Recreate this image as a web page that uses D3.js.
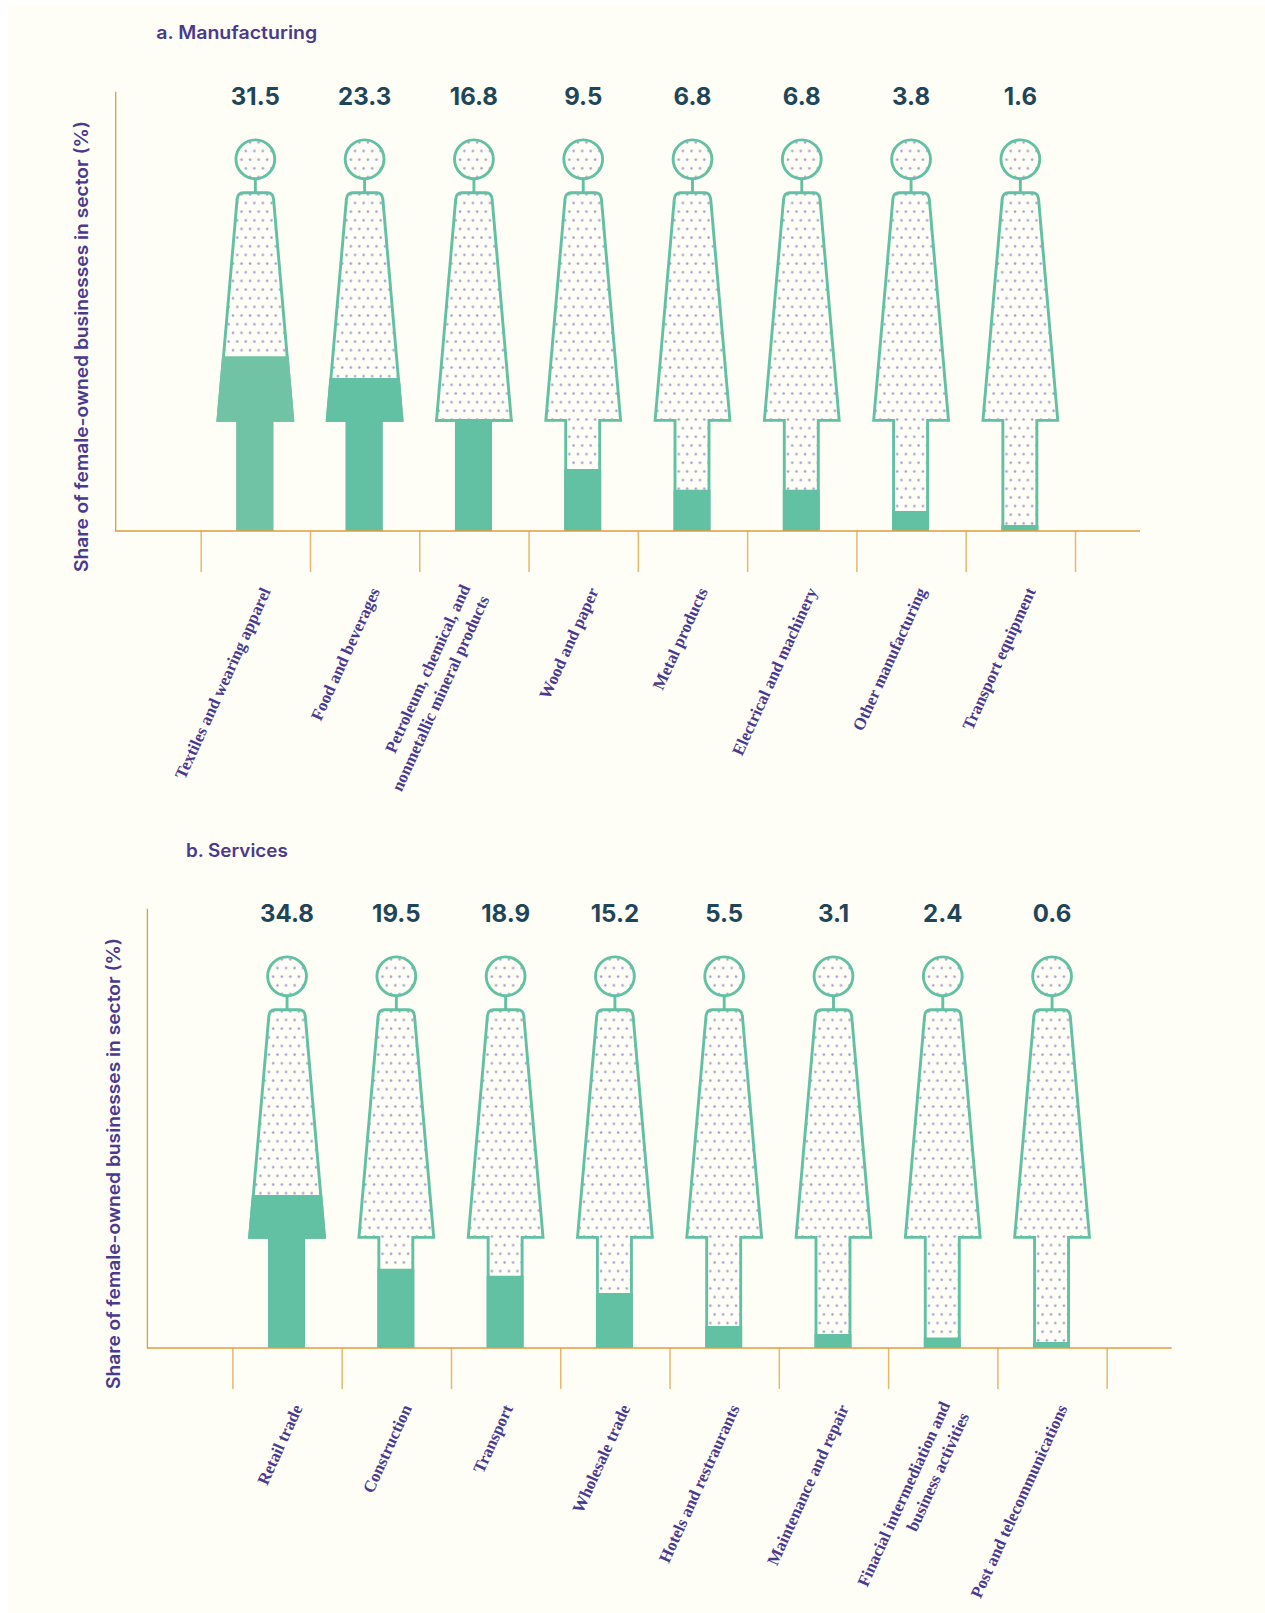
<!DOCTYPE html>
<html><head><meta charset="utf-8">
<script src="https://d3js.org/d3.v7.min.js"></script>
<style>html,body{margin:0;padding:0;background:#fff}svg{display:block}</style>
</head><body><div id="chart"></div>
<script>
const manufacturingCategories = [
  ["Textiles and wearing apparel"], ["Food and beverages"],
  ["Petroleum, chemical, and", "nonmetallic mineral products"],
  ["Wood and paper"], ["Metal products"], ["Electrical and machinery"],
  ["Other manufacturing"], ["Transport equipment"]];
const manufacturingValues = ["31.5","23.3","16.8","9.5","6.8","6.8","3.8","1.6"];
// level of the solid fill as drawn, in % of the figure's height
const manufacturingLevels = [44.6,39,28.6,15.8,10.5,10.5,5.1,1.5];

const servicesCategories = [
  ["Retail trade"], ["Construction"], ["Transport"], ["Wholesale trade"],
  ["Hotels and restraurants"], ["Maintenance and repair"],
  ["Finacial intermediation and", "business activities"],
  ["Post and telecommunications"]];
const servicesValues = ["34.8","19.5","18.9","15.2","5.5","3.1","2.4","0.6"];
const servicesLevels = [39,20.2,18.4,14,5.6,3.6,2.7,1.5];

const yAxisLabel = "Share of female-owned businesses in sector (%)";

const W = 1265, H = 1613;
const GREEN = "#62c0a3", PURPLE = "#4a3a8e", AXIS = "#e39b3f", TICK = "#e9b66c", BG = "#fefdf6", DOT = "#a99dd0", NUM = "#1f4558";
const SANS = "Inter, 'Open Sans', sans-serif", SERIF = "'Liberation Serif', serif";
const STROKE = 2.9;

const svg = d3.select("#chart").append("svg").attr("width", W).attr("height", H);
svg.append("rect").attr("x", 8).attr("y", 4).attr("width", W - 8).attr("height", H - 4).attr("fill", BG);
const defs = svg.append("defs");

// horizontal shift of a label line's end from the standard anchor
const labelNudge = {"Transport": -8, "Petroleum, chemical, and": -19, "Finacial intermediation and": -8, "business activities": 11};

function panel(id, title, titleWidth, titleX, titleY, cats, vals, levels, dx, dy) {
  const g = svg.append("g").attr("transform", `translate(${dx},${dy})`);
  const baseline = 531, headTop = 139, axisX = 115.7, axisTop = 91.7, axisRight = 1140;
  const x = d3.scaleBand().domain(d3.range(cats.length)).range([200.7, 1075]);
  const y = d3.scaleLinear().domain([0, 100]).range([baseline, headTop]);

  g.append("text").attr("x", titleX).attr("y", titleY).attr("textLength", titleWidth).attr("lengthAdjust", "spacingAndGlyphs")
    .attr("font-family", SANS).attr("font-weight", 600).attr("font-size", 18).attr("fill", PURPLE).text(title);

  g.append("text").attr("transform", `translate(88,346.5) rotate(-90)`).attr("text-anchor", "middle")
    .attr("textLength", 451).attr("lengthAdjust", "spacingAndGlyphs")
    .attr("font-family", SANS).attr("font-weight", 600).attr("font-size", 18).attr("fill", PURPLE).text(yAxisLabel);

  const fig = g.selectAll("g.fig").data(cats).join("g").attr("class", "fig");
  fig.each(function (c, i) {
    const s = d3.select(this), cx = x(i) + x.bandwidth() / 2;
    const pid = `${id}-dots-${i}`, clip = `${id}-clip-${i}`;
    const w = 8.55, h = 17.32;
    const p = defs.append("pattern").attr("id", pid).attr("patternUnits", "userSpaceOnUse")
      .attr("width", w).attr("height", h).attr("x", cx - 2.5).attr("y", 149.5);
    p.append("circle").attr("cx", 1.5).attr("cy", 1.5).attr("r", 1.3).attr("fill", DOT);
    p.append("circle").attr("cx", 1.5 + w / 2).attr("cy", 1.5 + h / 2).attr("r", 1.3).attr("fill", DOT);

    const level = y(levels[i]);
    defs.append("clipPath").attr("id", clip).append("rect")
      .attr("x", cx - 60).attr("width", 120).attr("y", level).attr("height", baseline + 2 - level);

    const top = 192.8, shoulder = 420.4, foot = 529.6, lc = cx - 0.5;
    const d = d3.path();
    d.moveTo(cx - 37.4, shoulder);
    d.lineTo(cx - 18.2, 199);
    d.quadraticCurveTo(cx - 17.6, top, cx - 12, top);
    d.lineTo(cx + 12, top);
    d.quadraticCurveTo(cx + 17.6, top, cx + 18.2, 199);
    d.lineTo(cx + 37.4, shoulder);
    d.lineTo(lc + 17, shoulder);
    d.lineTo(lc + 17, foot);
    d.lineTo(lc - 17, foot);
    d.lineTo(lc - 17, shoulder);
    d.closePath();
    const path = d.toString();

    s.append("circle").attr("cx", cx).attr("cy", 159.3).attr("r", 19.4)
      .attr("fill", `url(#${pid})`).attr("stroke", GREEN).attr("stroke-width", STROKE);
    s.append("line").attr("x1", cx).attr("x2", cx).attr("y1", 179).attr("y2", top)
      .attr("stroke", GREEN).attr("stroke-width", STROKE);
    s.append("path").attr("d", path).attr("fill", `url(#${pid})`)
      .attr("stroke", GREEN).attr("stroke-width", STROKE).attr("stroke-linejoin", "miter");
    const solid = (id === "a" && i === 0) ? "#70c3a5" : GREEN;
    s.append("path").attr("d", path).attr("fill", solid).attr("stroke", solid).attr("stroke-width", STROKE)
      .attr("clip-path", `url(#${clip})`);

    s.append("text").attr("x", cx).attr("y", 105).attr("text-anchor", "middle")
      .attr("font-family", SANS).attr("font-weight", 700).attr("font-size", 24).attr("fill", NUM).text(vals[i]);

    c.forEach((line, k) => {
      const ex = cx + 15.7 + (labelNudge[line] || 0);
      const ey = c.length > 1 ? (k === 0 ? 588 : 599) : 591;
      s.append("text").attr("transform", `translate(${ex},${ey}) rotate(-65.5)`)
        .attr("font-family", SERIF).attr("font-weight", 700).attr("font-size", 16.9)
        .attr("fill", PURPLE).attr("text-anchor", "end").text(line);
    });
  });

  const tickScale = d3.scaleLinear().domain([0, cats.length]).range(x.range());
  const xAxis = d3.axisBottom(tickScale).tickValues(d3.range(cats.length + 1)).tickSize(41).tickSizeOuter(0).tickFormat("");
  const ax = g.append("g").attr("transform", `translate(0,${baseline})`).call(xAxis);
  ax.select(".domain").remove();
  ax.selectAll(".tick line").attr("stroke", TICK).attr("stroke-width", 1.5);
  g.append("path").attr("d", d3.line()([[axisX, axisTop], [axisX, baseline], [axisRight, baseline]]))
    .attr("fill", "none").attr("stroke", AXIS).attr("stroke-width", 1.3);
}

panel("a", "a. Manufacturing", 161, 156.2, 39, manufacturingCategories, manufacturingValues, manufacturingLevels, 0, 0);
panel("b", "b. Services", 102, 154.2, 40, servicesCategories, servicesValues, servicesLevels, 31.7, 817);
</script></body></html>
